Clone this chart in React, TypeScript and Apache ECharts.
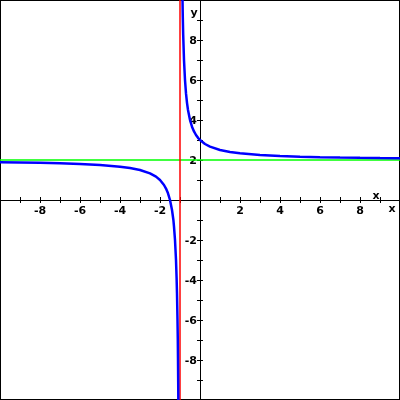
import React, { useEffect, useRef } from "react";
import * as echarts from "echarts";

const leftBranch: [number, number][] = [
  [-10, 1.89], [-9, 1.875], [-8, 1.857], [-7, 1.833], [-6, 1.8], [-5, 1.75],
  [-4, 1.667], [-3.5, 1.6], [-3, 1.5], [-2.5, 1.333], [-2.2, 1.167], [-2, 1],
  [-1.8, 0.75], [-1.7, 0.571], [-1.6, 0.333], [-1.5, 0], [-1.4, -0.5],
  [-1.33, -1.0], [-1.3, -1.333], [-1.25, -2], [-1.2, -3], [-1.17, -3.9],
  [-1.15, -4.667], [-1.125, -6], [-1.11, -7], [-1.1, -8], [-1.09, -9.1], [-1.08, -10.5],
];

const rightBranch: [number, number][] = [
  [-0.92, 14.5], [-0.9, 12], [-0.88, 10.33], [-0.86, 9.14], [-0.84, 8.25],
  [-0.8, 7], [-0.75, 6], [-0.7, 5.33], [-0.65, 4.86], [-0.6, 4.5], [-0.5, 4],
  [-0.4, 3.667], [-0.3, 3.43], [-0.2, 3.25], [-0.1, 3.11], [0, 3], [0.25, 2.8],
  [0.5, 2.667], [1, 2.5], [1.5, 2.4], [2, 2.333], [3, 2.25], [4, 2.2],
  [5, 2.167], [6, 2.143], [7, 2.125], [8, 2.111], [9, 2.1], [10, 2.091],
];

const verticalAsymptote: [number, number][] = [[-1, -10], [-1, 10]];
const horizontalAsymptote: [number, number][] = [[-10, 2], [10, 2]];

const labelValues = [-8, -6, -4, -2, 2, 4, 6, 8];

export default function App() {
  const ref = useRef<HTMLDivElement>(null);
  useEffect(() => {
    if (!ref.current) return;
    const chart = echarts.init(ref.current, null, { renderer: "svg" });
    const fmt = (v: number) => (labelValues.includes(v) ? String(v) : "");
    const labelStyle = {
      color: "#000",
      fontFamily: "DejaVu Sans",
      fontWeight: "bold" as const,
      fontSize: 11,
    };
    const axisCommon = {
      type: "value" as const,
      min: -10,
      max: 10,
      interval: 1,
      offset: -200,
      splitLine: { show: false },
      axisLine: { onZero: false, lineStyle: { color: "#000", width: 1 } },
      axisTick: { show: true, inside: false, length: 3, lineStyle: { color: "#000" } },
    };
    chart.setOption({
      animation: false,
      grid: {
        left: 0, right: 0, top: 0, bottom: 0,
        containLabel: false,
        outerBoundsMode: "none",
        show: true, borderColor: "#000", borderWidth: 2,
        backgroundColor: "#fff",
      },
      xAxis: [
        {
          ...axisCommon,
          position: "bottom",
          axisLabel: { ...labelStyle, formatter: fmt, margin: 5 },
        },
        {
          ...axisCommon,
          position: "top",
          axisLabel: { show: false },
        },
      ],
      yAxis: [
        {
          ...axisCommon,
          position: "left",
          axisLabel: { ...labelStyle, formatter: fmt, margin: 3 },
        },
        {
          ...axisCommon,
          position: "right",
          axisLabel: { show: false },
        },
      ],
      graphic: [
        { type: "text", x: 194, y: 12, style: { text: "y", fill: "#000", font: "bold 11px DejaVu Sans", align: "center", verticalAlign: "middle" } },
        { type: "text", x: 376, y: 195, style: { text: "x", fill: "#000", font: "bold 11px DejaVu Sans", align: "center", verticalAlign: "middle" } },
        { type: "text", x: 392, y: 208, style: { text: "x", fill: "#000", font: "bold 11px DejaVu Sans", align: "center", verticalAlign: "middle" } },
      ],
      series: [
        {
          type: "line", data: horizontalAsymptote, showSymbol: false, silent: true,
          lineStyle: { color: "#00ff00", width: 1.5 }, clip: true,
        },
        {
          type: "line", data: verticalAsymptote, showSymbol: false, silent: true,
          lineStyle: { color: "#ff0000", width: 1.5 }, clip: true,
        },
        {
          type: "line", data: leftBranch, showSymbol: false, silent: true,
          lineStyle: { color: "#0000ff", width: 2.5 }, clip: true,
        },
        {
          type: "line", data: rightBranch, showSymbol: false, silent: true,
          lineStyle: { color: "#0000ff", width: 2.5 }, clip: true,
        },
      ],
    });
    return () => chart.dispose();
  }, []);
  return (
    <div
      ref={ref}
      style={{ position: "fixed", left: 0, top: 0, width: 400, height: 400 }}
    />
  );
}
